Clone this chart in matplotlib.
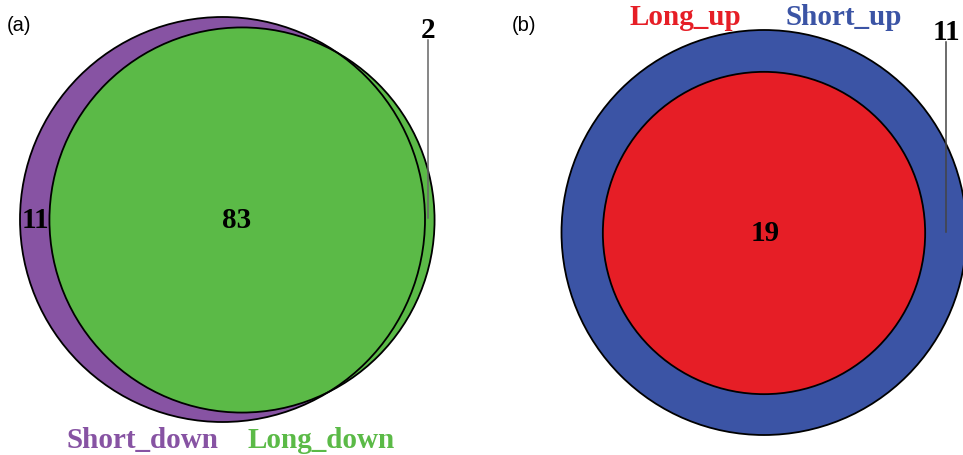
import numpy as np
import matplotlib
matplotlib.use("Agg")
import matplotlib.pyplot as plt
from matplotlib.patches import Circle

# ---- data ----
panel_tags = ["(a)", "(b)"]
set_names_a = ["Short_down", "Long_down"]
set_names_b = ["Short_up", "Long_up"]
only_a = [11, 2]          # Short_down only, Long_down only
shared_a = 83
only_b = [11, 0]          # Short_up only, Long_up only
shared_b = 19
colors_a = ["#8753A3", "#5BBA47"]
colors_b = ["#3B54A5", "#E61E26"]

W, H = 963, 455
fig = plt.figure(figsize=(W / 100, H / 100), dpi=100)
ax = fig.add_axes([0, 0, 1, 1])
ax.set_xlim(0, W)
ax.set_ylim(H, 0)
ax.set_aspect("equal")
ax.axis("off")

serif = ["Liberation Serif", "DejaVu Serif"]
sans = ["Liberation Sans", "DejaVu Sans"]
R = 202.5  # radius of the largest set (px)
FS = 21

def radius(n, nmax):
    return R * np.sqrt(n / nmax)

def draw_sets(centers, radii, colors):
    for c, r, col, z in zip(centers, radii, colors, [1, 2]):
        ax.add_patch(Circle(c, r, facecolor=col, edgecolor="none", zorder=z))
    for c, r in zip(centers, radii):
        ax.add_patch(Circle(c, r, fill=False, edgecolor="black", lw=1.3, zorder=3))

# ---- panel (a) ----
tot_a = [only_a[0] + shared_a, only_a[1] + shared_a]
ra = [radius(t, max(tot_a)) for t in tot_a]
ca = [(222.5, 219.5), (242, 220)]
draw_sets(ca, ra, colors_a)
ax.text(237, 220.5, str(shared_a), ha="center", va="center", fontsize=FS,
        fontweight="bold", family=serif, zorder=5)
ax.text(35.5, 220.5, str(only_a[0]), ha="center", va="center", fontsize=FS,
        fontweight="bold", family=serif, zorder=5)
ax.text(428, 38, str(only_a[1]), ha="center", va="baseline", fontsize=FS,
        fontweight="bold", family=serif, zorder=5)
ax.plot([428, 428], [40, 218], color="#666666", lw=1.1, zorder=4)
ax.text(142.5, 448, set_names_a[0], ha="center", va="baseline", fontsize=FS,
        fontweight="bold", family=serif, color=colors_a[0])
ax.text(321, 448, set_names_a[1], ha="center", va="baseline", fontsize=FS,
        fontweight="bold", family=serif, color=colors_a[1])
ax.text(7, 31, panel_tags[0], ha="left", va="baseline", fontsize=14.5, family=sans)

# ---- panel (b) ----
tot_b = [only_b[0] + shared_b, only_b[1] + shared_b]
rb = [radius(t, max(tot_b)) for t in tot_b]
cb = [(764, 232.5), (764, 233)]
draw_sets(cb, rb, colors_b)
ax.text(765, 233.5, str(shared_b), ha="center", va="center", fontsize=FS,
        fontweight="bold", family=serif, zorder=5)
ax.text(946, 40, str(only_b[0]), ha="center", va="baseline", fontsize=FS,
        fontweight="bold", family=serif, zorder=5)
ax.plot([945.5, 945.5], [42, 232], color="#444444", lw=1.1, zorder=4)
ax.text(685, 25, set_names_b[1], ha="center", va="baseline", fontsize=FS,
        fontweight="bold", family=serif, color=colors_b[1])
ax.text(843.5, 25, set_names_b[0], ha="center", va="baseline", fontsize=FS,
        fontweight="bold", family=serif, color=colors_b[0])
ax.text(512, 31, panel_tags[1], ha="left", va="baseline", fontsize=14.5, family=sans)

fig.savefig("out.png", dpi=100)
